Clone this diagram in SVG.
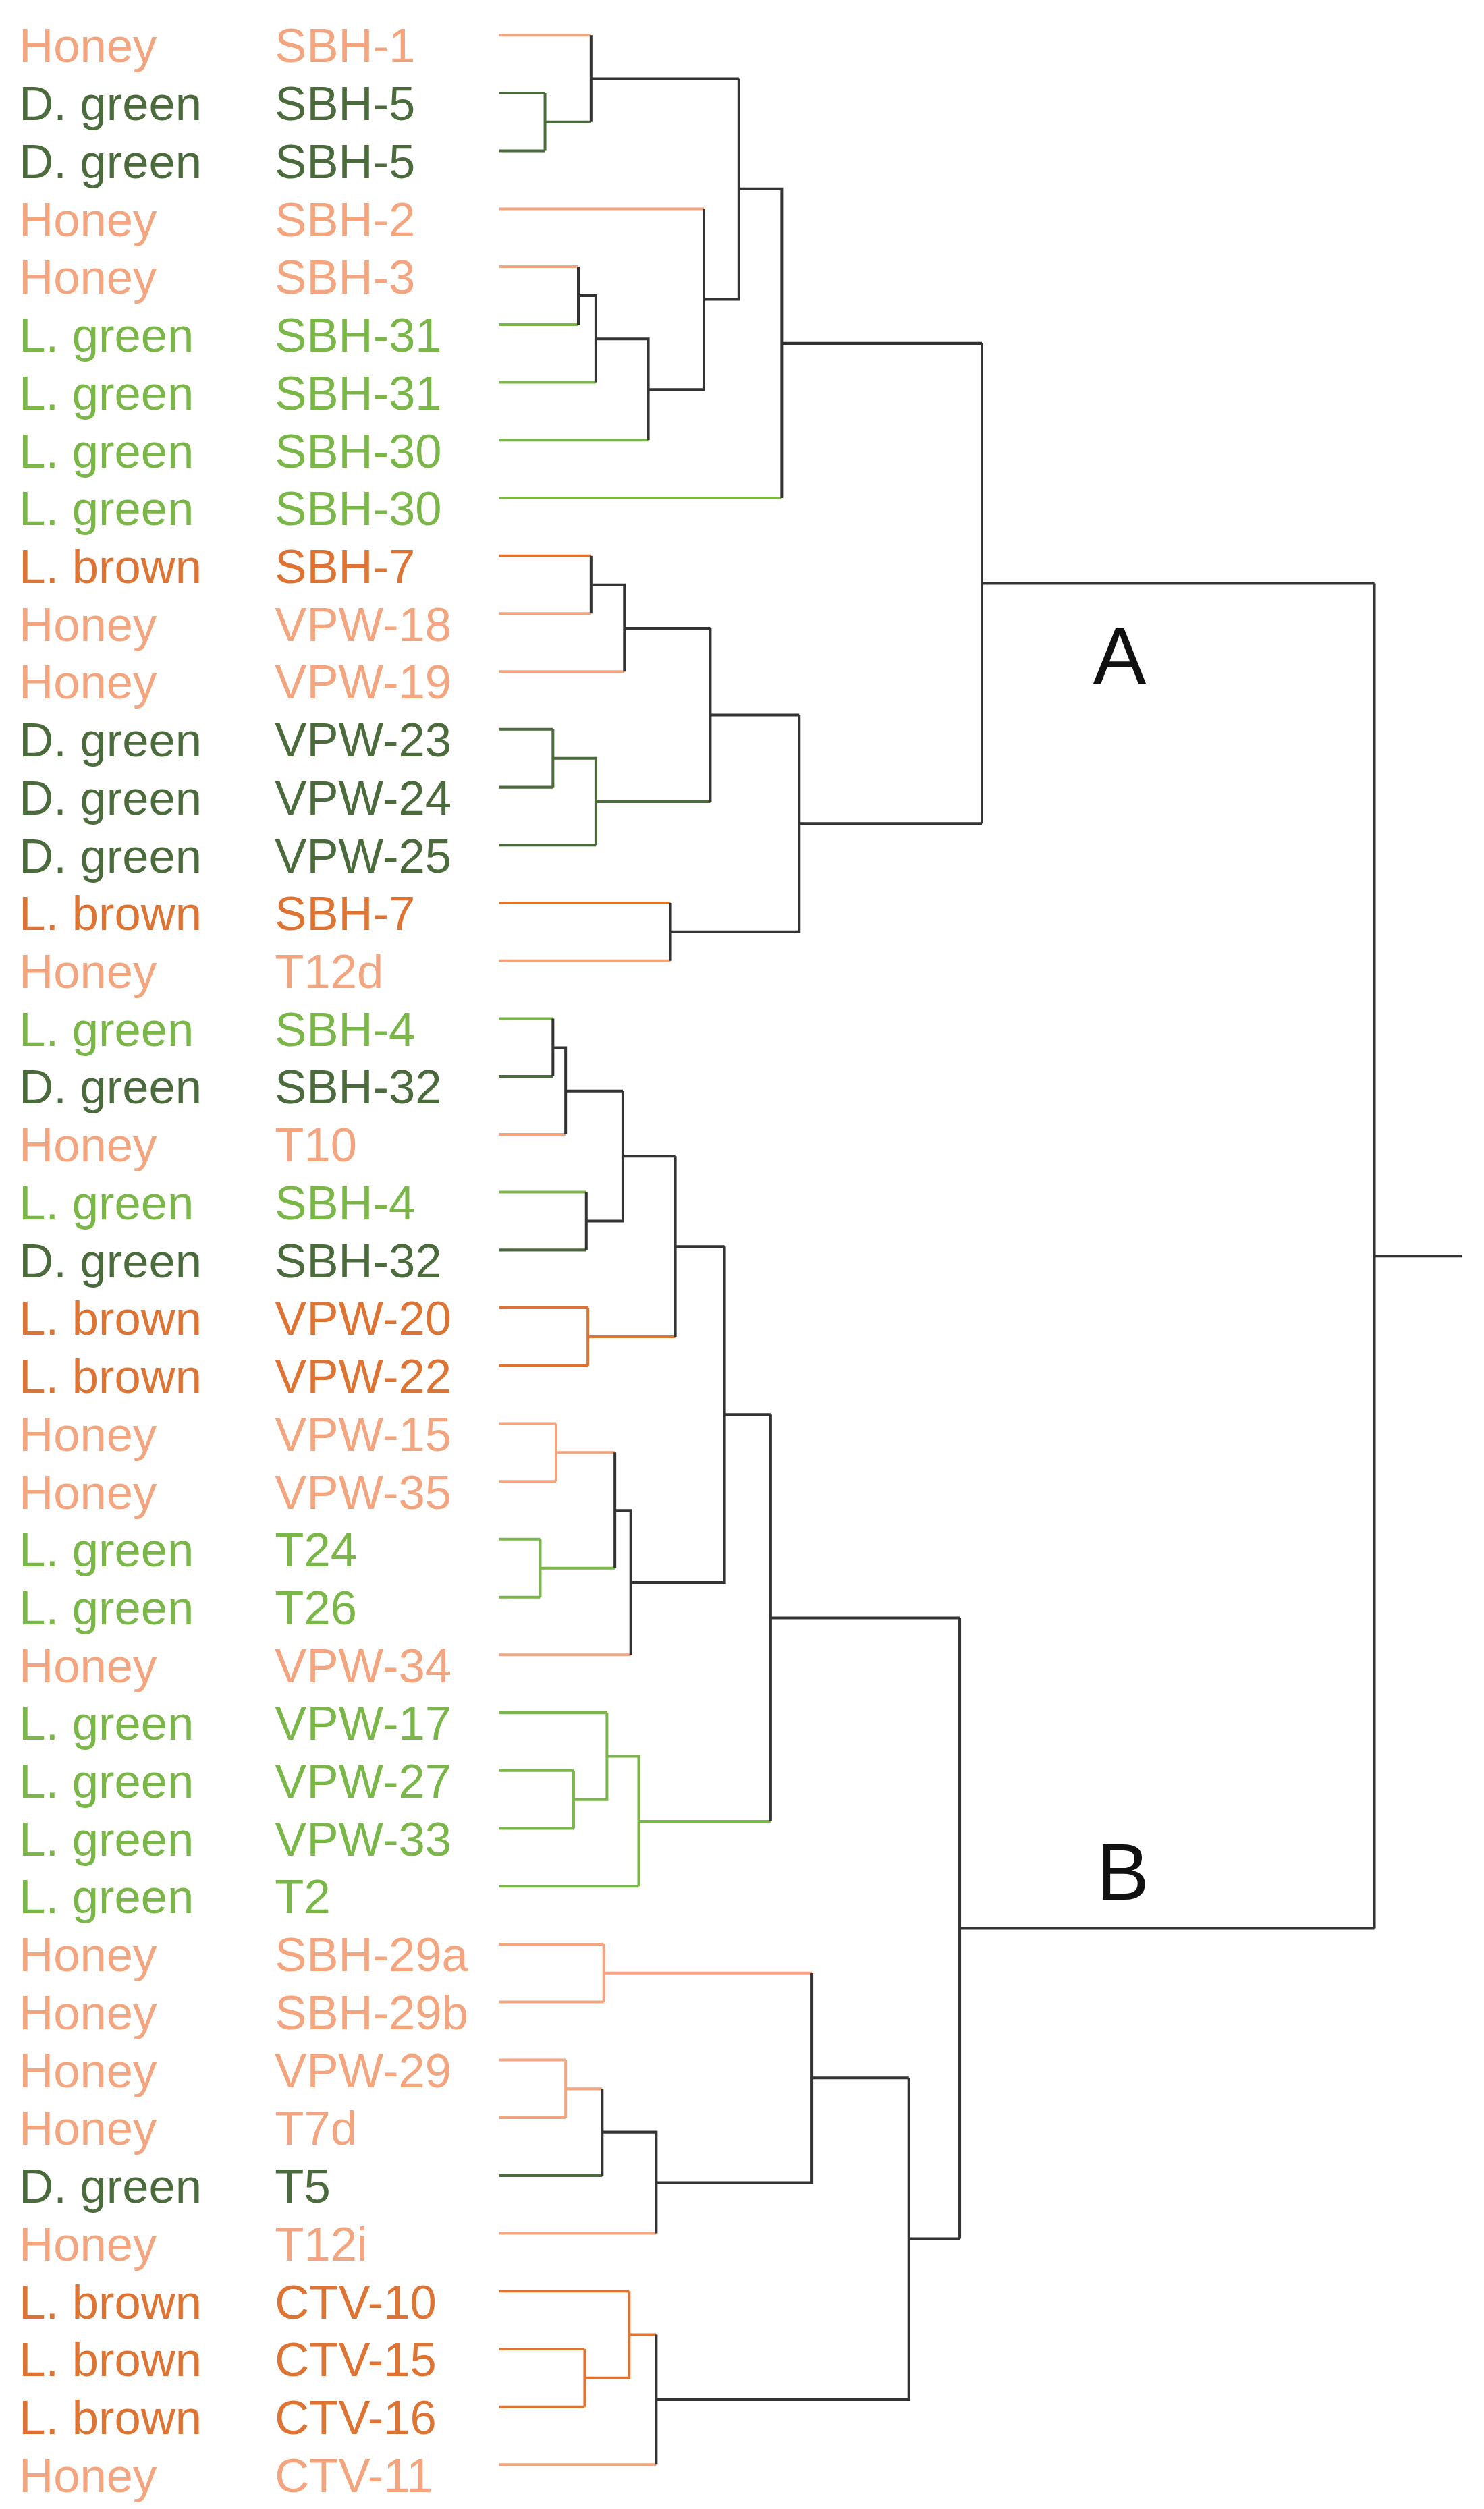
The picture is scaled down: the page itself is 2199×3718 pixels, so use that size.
<svg xmlns="http://www.w3.org/2000/svg" width="2199" height="3718" viewBox="0 0 2199 3718">
<style>
text{font-family:"Liberation Sans",Arial,sans-serif;font-size:30px}
.h{fill:#f2a57e}.d{fill:#4b6b3c}.l{fill:#7ab648}.b{fill:#de7433}
path{fill:none;stroke-width:1.7}
.sh{stroke:#f2a57e}.sd{stroke:#4b6b3c}.sl{stroke:#7ab648}.sb{stroke:#de7433}.sk{stroke:#333}
.big{font-size:50px;fill:#111}
</style>
<rect width="2199" height="3718" fill="#fff"/>
<g transform="scale(2.3544,2.3712)">
<g id="labels">
<g class="h"><text x="12" y="39">Honey</text><text x="173" y="39">SBH-1</text></g>
<g class="d"><text x="12" y="75.2">D. green</text><text x="173" y="75.2">SBH-5</text></g>
<g class="d"><text x="12" y="111.3">D. green</text><text x="173" y="111.3">SBH-5</text></g>
<g class="h"><text x="12" y="147.5">Honey</text><text x="173" y="147.5">SBH-2</text></g>
<g class="h"><text x="12" y="183.6">Honey</text><text x="173" y="183.6">SBH-3</text></g>
<g class="l"><text x="12" y="219.8">L. green</text><text x="173" y="219.8">SBH-31</text></g>
<g class="l"><text x="12" y="255.9">L. green</text><text x="173" y="255.9">SBH-31</text></g>
<g class="l"><text x="12" y="292.1">L. green</text><text x="173" y="292.1">SBH-30</text></g>
<g class="l"><text x="12" y="328.2">L. green</text><text x="173" y="328.2">SBH-30</text></g>
<g class="b"><text x="12" y="364.4">L. brown</text><text x="173" y="364.4">SBH-7</text></g>
<g class="h"><text x="12" y="400.5">Honey</text><text x="173" y="400.5">VPW-18</text></g>
<g class="h"><text x="12" y="436.7">Honey</text><text x="173" y="436.7">VPW-19</text></g>
<g class="d"><text x="12" y="472.8">D. green</text><text x="173" y="472.8">VPW-23</text></g>
<g class="d"><text x="12" y="509">D. green</text><text x="173" y="509">VPW-24</text></g>
<g class="d"><text x="12" y="545.1">D. green</text><text x="173" y="545.1">VPW-25</text></g>
<g class="b"><text x="12" y="581.3">L. brown</text><text x="173" y="581.3">SBH-7</text></g>
<g class="h"><text x="12" y="617.4">Honey</text><text x="173" y="617.4">T12d</text></g>
<g class="l"><text x="12" y="653.6">L. green</text><text x="173" y="653.6">SBH-4</text></g>
<g class="d"><text x="12" y="689.7">D. green</text><text x="173" y="689.7">SBH-32</text></g>
<g class="h"><text x="12" y="725.9">Honey</text><text x="173" y="725.9">T10</text></g>
<g class="l"><text x="12" y="762">L. green</text><text x="173" y="762">SBH-4</text></g>
<g class="d"><text x="12" y="798.2">D. green</text><text x="173" y="798.2">SBH-32</text></g>
<g class="b"><text x="12" y="834.3">L. brown</text><text x="173" y="834.3">VPW-20</text></g>
<g class="b"><text x="12" y="870.5">L. brown</text><text x="173" y="870.5">VPW-22</text></g>
<g class="h"><text x="12" y="906.6">Honey</text><text x="173" y="906.6">VPW-15</text></g>
<g class="h"><text x="12" y="942.8">Honey</text><text x="173" y="942.8">VPW-35</text></g>
<g class="l"><text x="12" y="978.9">L. green</text><text x="173" y="978.9">T24</text></g>
<g class="l"><text x="12" y="1015.1">L. green</text><text x="173" y="1015.1">T26</text></g>
<g class="h"><text x="12" y="1051.2">Honey</text><text x="173" y="1051.2">VPW-34</text></g>
<g class="l"><text x="12" y="1087.4">L. green</text><text x="173" y="1087.4">VPW-17</text></g>
<g class="l"><text x="12" y="1123.5">L. green</text><text x="173" y="1123.5">VPW-27</text></g>
<g class="l"><text x="12" y="1159.7">L. green</text><text x="173" y="1159.7">VPW-33</text></g>
<g class="l"><text x="12" y="1195.8">L. green</text><text x="173" y="1195.8">T2</text></g>
<g class="h"><text x="12" y="1232">Honey</text><text x="173" y="1232">SBH-29a</text></g>
<g class="h"><text x="12" y="1268.1">Honey</text><text x="173" y="1268.1">SBH-29b</text></g>
<g class="h"><text x="12" y="1304.3">Honey</text><text x="173" y="1304.3">VPW-29</text></g>
<g class="h"><text x="12" y="1340.4">Honey</text><text x="173" y="1340.4">T7d</text></g>
<g class="d"><text x="12" y="1376.6">D. green</text><text x="173" y="1376.6">T5</text></g>
<g class="h"><text x="12" y="1412.7">Honey</text><text x="173" y="1412.7">T12i</text></g>
<g class="b"><text x="12" y="1448.9">L. brown</text><text x="173" y="1448.9">CTV-10</text></g>
<g class="b"><text x="12" y="1485">L. brown</text><text x="173" y="1485">CTV-15</text></g>
<g class="b"><text x="12" y="1521.2">L. brown</text><text x="173" y="1521.2">CTV-16</text></g>
<g class="h"><text x="12" y="1557.3">Honey</text><text x="173" y="1557.3">CTV-11</text></g>
</g>
<g id="connectors">
<!-- leaf lines -->
<path class="sh" d="M314 22H372"/>
<path class="sd" d="M314 58.2H343M314 94.3H343"/>
<path class="sh" d="M314 130.5H443M314 166.6H364"/>
<path class="sl" d="M314 202.8H364M314 238.9H375M314 275.1H408M314 311.2H492"/>
<path class="sb" d="M314 347.4H372"/>
<path class="sh" d="M314 383.5H372M314 419.7H393"/>
<path class="sd" d="M314 455.8H348M314 492H348M314 528.1H375"/>
<path class="sb" d="M314 564.3H422"/>
<path class="sh" d="M314 600.4H422"/>
<path class="sl" d="M314 636.6H348"/>
<path class="sd" d="M314 672.7H348"/>
<path class="sh" d="M314 708.9H356"/>
<path class="sl" d="M314 745H369"/>
<path class="sd" d="M314 781.2H369"/>
<path class="sb" d="M314 817.3H370M314 853.5H370"/>
<path class="sh" d="M314 889.6H350M314 925.8H350"/>
<path class="sl" d="M314 961.9H340M314 998.1H340"/>
<path class="sh" d="M314 1034.2H397"/>
<path class="sl" d="M314 1070.4H382M314 1106.5H361M314 1142.7H361M314 1178.8H402"/>
<path class="sh" d="M314 1215H380M314 1251.1H380M314 1287.3H356M314 1323.4H356"/>
<path class="sd" d="M314 1359.6H379"/>
<path class="sh" d="M314 1395.7H413"/>
<path class="sb" d="M314 1431.9H396M314 1468H368M314 1504.2H368"/>
<path class="sh" d="M314 1540.3H413"/>
<!-- internal -->
<path class="sd" d="M343 58.2V94.3M343 76.2H372"/>
<path class="sk" d="M372 22V76.2M372 49.1H465"/>
<path class="sk" d="M364 166.6V202.8M364 184.7H375V238.9M375 211.8H408V275.1M408 243.5H443V130.5M443 187H465V49.1M465 118H492V311.2M492 214.6H618"/>
<path class="sk" d="M372 347.4V383.5M372 365.5H393V419.7M393 392.6H447"/>
<path class="sd" d="M348 455.8V492M348 473.9H375V528.1M375 501H447"/>
<path class="sk" d="M447 392.6V501M447 446.8H503"/>
<path class="sk" d="M422 564.3V600.4M422 582.3H503V446.8M503 514.6H618"/>
<path class="sk" d="M618 214.6V514.6M618 364.6H865"/>
<path class="sk" d="M348 636.6V672.7M348 654.7H356V708.9M356 681.8H392"/>
<path class="sk" d="M369 745V781.2M369 763.1H392V681.8M392 722.5H425"/>
<path class="sb" d="M370 817.3V853.5M370 835.4H425"/>
<path class="sk" d="M425 722.5V835.4M425 779H456"/>
<path class="sh" d="M350 889.6V925.8M350 907.7H387"/>
<path class="sl" d="M340 961.9V998.1M340 980H387"/>
<path class="sk" d="M387 907.7V980M387 943.9H397V1034.2M397 989H456V779M456 884H485"/>
<path class="sl" d="M361 1106.5V1142.7M361 1124.6H382V1070.4M382 1097.5H402V1178.8M402 1138.2H485"/>
<path class="sk" d="M485 884V1138.2M485 1011.1H604"/>
<path class="sh" d="M380 1215V1251.1M380 1233H511"/>
<path class="sh" d="M356 1287.3V1323.4M356 1305.4H379"/>
<path class="sk" d="M379 1305.4V1359.6M379 1332.5H413V1395.7M413 1364.1H511V1233M511 1298.6H572"/>
<path class="sb" d="M368 1468V1504.2M368 1486.1H396V1431.9M396 1459H413"/>
<path class="sk" d="M413 1459V1540.3M413 1499.7H572V1298.6M572 1399.1H604"/>
<path class="sk" d="M604 1011.1V1399.1M604 1205.1H865"/>
<path class="sk" d="M865 364.6V1205.1M865 784.9H920"/>
</g>
<text class="big" x="688" y="427">A</text>
<text class="big" x="690" y="1187">B</text>
</g>
</svg>
